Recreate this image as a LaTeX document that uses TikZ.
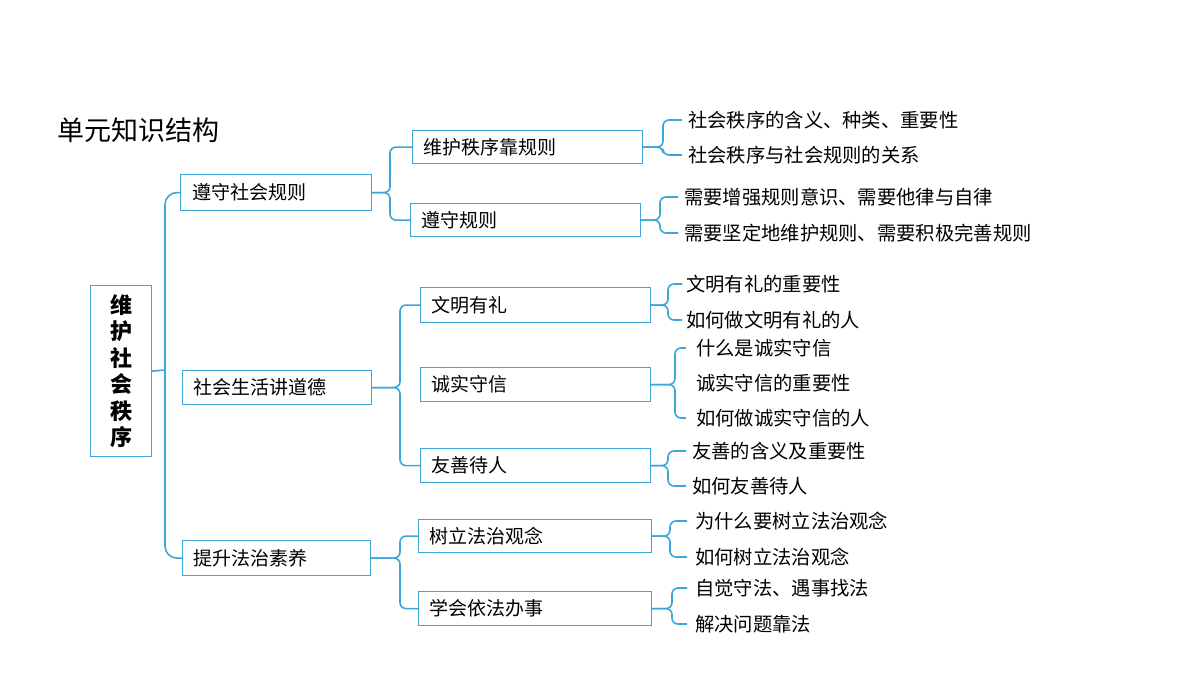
\documentclass[tikz,border=0pt]{standalone}
\usepackage{fontspec}
\setmainfont{Noto Sans CJK SC}
\begin{document}
\begin{tikzpicture}[x=1pt,y=-1pt,
  box/.style={draw=lb,line width=1.2pt,anchor=north west,inner sep=0pt,font=\fontsize{19}{22}\selectfont},
  leaf/.style={anchor=west,inner sep=0pt,font=\fontsize{19.3}{22}\selectfont},
  br/.style={draw=lb,line width=1.6pt,rounded corners=6pt}]
\definecolor{lb}{HTML}{3DA5D9}
\useasboundingbox (0,0) rectangle (1200,675);
\node[anchor=west,inner sep=0pt,font=\fontsize{27}{30}\selectfont] (title) at (57,130) {单元知识结构};
% root
\node[box,minimum width=61pt,minimum height=171pt] (root) at (90,285) {};
\node[font=\fontsize{22}{26.5}\selectfont\bfseries,align=center] (roott) at (root.center) {维\\护\\社\\会\\秩\\序};
% level1
\node[box,minimum width=191pt,minimum height=36pt,text width=190pt,align=left] (a) at (180,174) {\hspace*{11pt}遵守社会规则};
\node[box,minimum width=189pt,minimum height=34pt,text width=188pt,align=left] (b) at (182,370) {\hspace*{10pt}社会生活讲道德};
\node[box,minimum width=188pt,minimum height=35pt,text width=187pt,align=left] (c) at (182,540) {\hspace*{10pt}提升法治素养};
% level2
\node[box,minimum width=230pt,minimum height=33pt,text width=229pt,align=left] (a1) at (412,130) {\hspace*{10pt}维护秩序靠规则};
\node[box,minimum width=230pt,minimum height=33pt,text width=229pt,align=left] (a2) at (410,203) {\hspace*{10pt}遵守规则};
\node[box,minimum width=230pt,minimum height=35pt,text width=229pt,align=left] (b1) at (420,287) {\hspace*{10pt}文明有礼};
\node[box,minimum width=230pt,minimum height=34pt,text width=229pt,align=left] (b2) at (420,367) {\hspace*{10pt}诚实守信};
\node[box,minimum width=230pt,minimum height=34pt,text width=229pt,align=left] (b3) at (420,448) {\hspace*{10pt}友善待人};
\node[box,minimum width=233pt,minimum height=33pt,text width=232pt,align=left] (c1) at (418,519) {\hspace*{10pt}树立法治观念};
\node[box,minimum width=233pt,minimum height=34pt,text width=232pt,align=left] (c2) at (418,591) {\hspace*{10pt}学会依法办事};
% leaves
\node[leaf] (l1) at (688,120) {社会秩序的含义、种类、重要性};
\node[leaf] (l2) at (688,155) {社会秩序与社会规则的关系};
\node[leaf] (l3) at (684,197) {需要增强规则意识、需要他律与自律};
\node[leaf] (l4) at (684,233) {需要坚定地维护规则、需要积极完善规则};
\node[leaf] (l5) at (686,284) {文明有礼的重要性};
\node[leaf] (l6) at (686,320) {如何做文明有礼的人};
\node[leaf] (l7) at (696,348) {什么是诚实守信};
\node[leaf] (l8) at (696,383) {诚实守信的重要性};
\node[leaf] (l9) at (696,418) {如何做诚实守信的人};
\node[leaf] (l10) at (692,451) {友善的含义及重要性};
\node[leaf] (l11) at (692,486) {如何友善待人};
\node[leaf] (l12) at (695,521) {为什么要树立法治观念};
\node[leaf] (l13) at (695,557) {如何树立法治观念};
\node[leaf] (l14) at (695,588) {自觉守法、遇事找法};
\node[leaf] (l15) at (695,624) {解决问题靠法};
% braces
\draw[br,rounded corners=12pt] (a.west) -| (165,370) |- (c.west);
\draw[br] (root.east) -- (165,370);
\draw[br] (a.east) -| (390,0|-a1.west) -- (a1.west);
\draw[br] (a.east) -| (390,0|-a2.west) -- (a2.west);
\draw[br] (b.east) -| (400,0|-b1.west) -- (b1.west);
\draw[br] (b.east) -| (400,0|-b3.west) -- (b3.west);
\draw[br] (c.east) -| (400,0|-c1.west) -- (c1.west);
\draw[br] (c.east) -| (400,0|-c2.west) -- (c2.west);
\draw[br] (a1.east) -| (663,0|-l1.west) -- ([xshift=-6pt]l1.west);
\draw[br] (a1.east) -| (663,0|-l2.west) -- ([xshift=-6pt]l2.west);
\draw[br] (a2.east) -| (660,0|-l3.west) -- ([xshift=-6pt]l3.west);
\draw[br] (a2.east) -| (660,0|-l4.west) -- ([xshift=-6pt]l4.west);
\draw[br] (b1.east) -| (668,0|-l5.west) -- ([xshift=-4pt]l5.west);
\draw[br] (b1.east) -| (668,0|-l6.west) -- ([xshift=-4pt]l6.west);
\draw[br] (b2.east) -| (675,0|-l7.west) -- ([xshift=-10pt]l7.west);
\draw[br] (b2.east) -| (675,0|-l9.west) -- ([xshift=-10pt]l9.west);
\draw[br] (b3.east) -| (668,0|-l10.west) -- ([xshift=-6pt]l10.west);
\draw[br] (b3.east) -| (668,0|-l11.west) -- ([xshift=-6pt]l11.west);
\draw[br] (c1.east) -| (670,0|-l12.west) -- ([xshift=-8pt]l12.west);
\draw[br] (c1.east) -| (670,0|-l13.west) -- ([xshift=-8pt]l13.west);
\draw[br] (c2.east) -| (672,0|-l14.west) -- ([xshift=-8pt]l14.west);
\draw[br] (c2.east) -| (672,0|-l15.west) -- ([xshift=-8pt]l15.west);
\end{tikzpicture}
\end{document}
